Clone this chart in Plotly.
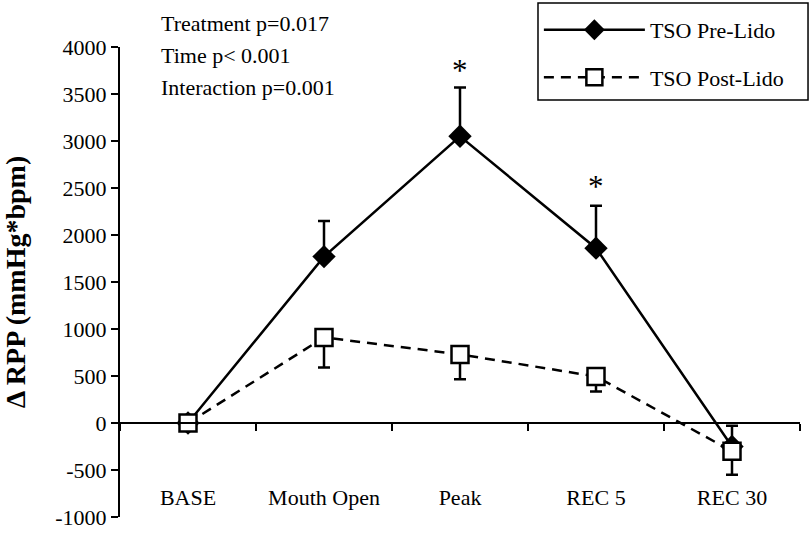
import plotly.graph_objects as go

categories = ["BASE", "Mouth Open", "Peak", "REC 5", "REC 30"]
pre_lido = [0, 1770, 3050, 1860, -250]
pre_err_up = [0, 380, 520, 450, 220]
post_lido = [0, 910, 730, 495, -300]
post_err_down = [0, 320, 265, 160, 250]
y_tick_values = [-1000, -500, 0, 500, 1000, 1500, 2000, 2500, 3000, 3500, 4000]
y_tick_labels = ["-1000", "-500", "0", "500", "1000", "1500", "2000", "2500",
                 "3000", "3500", "4000"]
stat_lines = ["Treatment p=0.017", "Time p< 0.001", "Interaction p=0.001"]
star_cats = ["Peak", "REC 5"]
star_y = [3745, 2515]

FONT = "Liberation Serif, Times New Roman, serif"

fig = go.Figure()
fig.add_trace(go.Scatter(
    x=categories, y=pre_lido, name="TSO Pre-Lido", mode="lines+markers",
    legendgroup="a",
    line=dict(color="black", width=2.5),
    marker=dict(symbol="diamond", size=18, color="black"),
    error_y=dict(type="data", symmetric=False, array=pre_err_up,
                 arrayminus=[0]*5, color="black", thickness=2.5, width=6),
))
fig.add_trace(go.Scatter(
    x=categories, y=post_lido, name="TSO Post-Lido", mode="lines+markers",
    legendgroup="b",
    line=dict(color="black", width=2.5, dash="10px,7px"),
    marker=dict(symbol="square", size=17, color="white",
                line=dict(color="black", width=2.5)),
    error_y=dict(type="data", symmetric=False, array=[0]*5,
                 arrayminus=post_err_down, color="black", thickness=2.5, width=6),
))

annotations = []
ys = [1.051, 0.981, 0.913]
for t, yy in zip(stat_lines, ys):
    annotations.append(dict(text=t, xref="paper", yref="paper", x=0.058, y=yy,
                            xanchor="left", yanchor="middle", showarrow=False,
                            font=dict(family=FONT, size=22, color="black")))
for c, yy in zip(star_cats, star_y):
    annotations.append(dict(text="*", x=c, y=yy, xref="x", yref="y",
                            showarrow=False,
                            font=dict(family=FONT, size=31, color="black")))

fig.update_layout(
    width=809, height=533,
    margin=dict(l=120, r=9, t=47, b=16, autoexpand=False),
    paper_bgcolor="white", plot_bgcolor="white",
    font=dict(family=FONT, size=22, color="black"),
    showlegend=True,
    legend=dict(x=0.616, y=1.081, xanchor="left", yanchor="top",
                borderwidth=0, bgcolor="rgba(0,0,0,0)",
                font=dict(family=FONT, size=22), itemwidth=101,
                traceorder="grouped", tracegroupgap=16),
    shapes=[dict(type="rect", xref="paper", yref="paper",
                 x0=0.6147, x1=1.0118, y0=0.8872, y1=1.0936,
                 line=dict(color="black", width=1.5), fillcolor="white",
                 layer="below")],
    annotations=annotations,
    xaxis=dict(type="category", range=[-0.5, 4.5], anchor="free", position=0.2,
               showline=True, linecolor="black", linewidth=2,
               ticks="outside", ticklen=7, tickwidth=1.5, tickcolor="black",
               tickson="boundaries", showgrid=False, zeroline=False,
               ticklabelstandoff=55,
               tickfont=dict(family=FONT, size=22)),
    yaxis=dict(range=[-1000, 4000], tickmode="array", tickvals=y_tick_values,
               ticktext=y_tick_labels, showline=True, linecolor="black",
               linewidth=2, ticks="outside", ticklen=7, tickwidth=1.5,
               tickcolor="black", showgrid=False, zeroline=False,
               tickfont=dict(family=FONT, size=22),
               title=dict(text="Δ RPP (mmHg*bpm)", standoff=28,
                          font=dict(family=FONT, size=28, weight="bold"))),
)

fig.write_html("out.html", config={"displayModeBar": False},
               post_script="document.body.style.margin='0';document.body.style.overflow='hidden';")
